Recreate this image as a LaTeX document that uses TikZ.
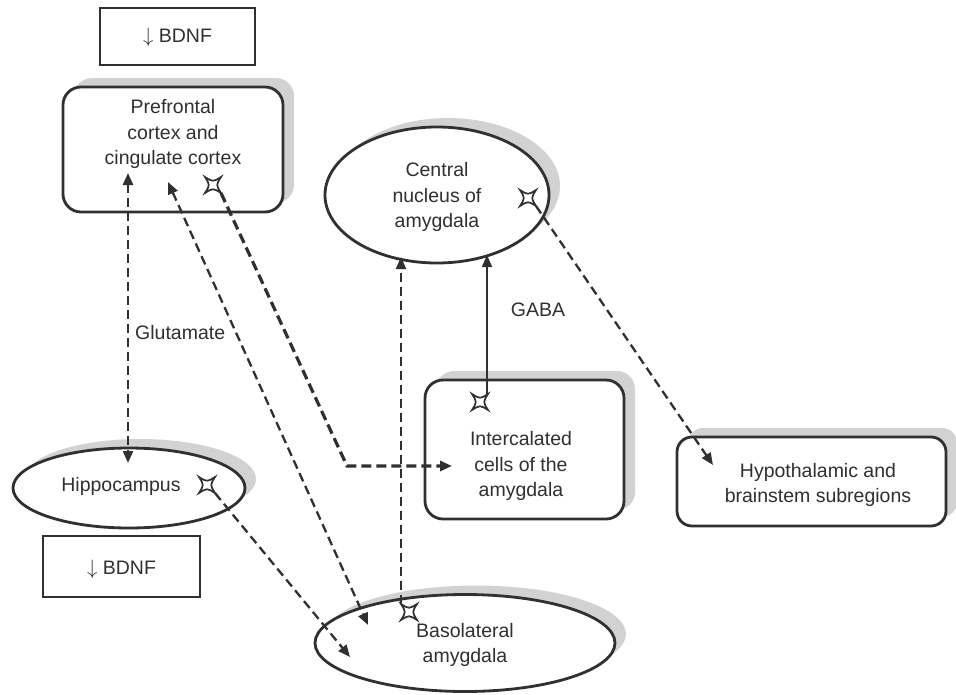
\documentclass[tikz,border=0pt]{standalone}
\usepackage{fontspec}
\setmainfont{Liberation Sans}
\usetikzlibrary{arrows.meta,shapes.geometric,shadows}
\definecolor{ink}{HTML}{303030}
\definecolor{shd}{HTML}{D2D2D2}
\begin{document}
\begin{tikzpicture}[x=1pt,y=-1pt,
  font=\fontsize{19.5}{25.5}\selectfont,
  outl/.style={draw=ink, line width=2.8pt, fill=white, inner sep=0pt},
  shadowed/.style={general shadow={fill=shd, shadow xshift=11pt, shadow yshift=9pt}},
  rbox/.style={outl, rectangle, rounded corners=18pt},
  ell/.style={outl, ellipse},
  plainbox/.style={draw=ink, line width=1.5pt, fill=white, inner sep=0pt},
  lbl/.style={align=center, text=ink, inner sep=0pt},
  dl/.style={draw=ink, line width=2.3pt, dash pattern=on 9pt off 5pt},
  dlt/.style={draw=ink, line width=3.2pt, dash pattern=on 10pt off 5pt},
  arr/.style={arrows={-Triangle[length=12pt,width=10pt]}},
  arrs/.style={arrows={Triangle[length=12pt,width=10pt]-Triangle[length=12pt,width=10pt]}},
  synapse/.pic={\draw[ink, line width=1.7pt, fill=white]
     (-8,-8) .. controls (0,-3) .. (8,-8) .. controls (3,0) .. (8,8)
     .. controls (0,3) .. (-8,8) .. controls (-3,0) .. (-8,-8) -- cycle;}
]
\useasboundingbox (0,0) rectangle (956,694);

% boxes and ellipses
\node[plainbox, minimum width=155pt, minimum height=57pt] (bdnfA) at (177.5,36.5) {};
\node[plainbox, minimum width=157pt, minimum height=61pt] (bdnfB) at (121.5,566.5) {};
\node[rbox, shadowed, minimum width=220pt, minimum height=125pt] (pfc) at (173,149.5) {};
\node[ell, shadowed, minimum width=224pt, minimum height=136pt] (cna) at (437,195) {};
\node[ell, shadowed, minimum width=232pt, minimum height=80pt] (hip) at (129,488) {};
\node[rbox, shadowed, minimum width=199pt, minimum height=139pt] (icm) at (524.5,449.5) {};
\node[rbox, shadowed, rounded corners=15pt, minimum width=269pt, minimum height=89pt] (hyp) at (811.5,481.5) {};
\node[ell, shadowed, minimum width=300pt, minimum height=97pt] (bla) at (465,643) {};

% connector end points
\coordinate (gTop) at (128,173);
\coordinate (gBot) at (128,463);
\coordinate (pTop) at (168,182);
\coordinate (pBot) at (368,625);
\coordinate (sPfc) at (213,185);
\coordinate (sPfcOut) at (221,193);
\coordinate (elbow) at (347,466);
\coordinate (icmIn) at (452,466);
\coordinate (sHip) at (207,485);
\coordinate (sHipOut) at (215,493);
\coordinate (blaIn) at (350,657);
\coordinate (sBla) at (409,612);
\coordinate (sBlaOut) at (401,604);
\coordinate (cnaInA) at (401,257);
\coordinate (sIcm) at (480,402);
\coordinate (sIcmOut) at (487,394);
\coordinate (cnaInB) at (487,255);
\coordinate (sCna) at (528,198);
\coordinate (sCnaOut) at (536,206);
\coordinate (hypIn) at (713,465);

% connectors
\draw[dl, arrs] (gTop) -- (gBot);
\draw[dl, arrs] (pTop) -- (pBot);
\draw[dlt, arr] (sPfcOut) -- (elbow) -- (icmIn);
\draw[dl, arr] (sHipOut) -- (blaIn);
\draw[dl, arr] (sBlaOut) -- (cnaInA);
\draw[draw=ink, line width=1.8pt, arr] (sIcmOut) -- (cnaInB);
\draw[dl, arr] (sCnaOut) -- (hypIn);

% synapse symbols
\pic at (sPfc) {synapse};
\pic at (sHip) {synapse};
\pic at (sBla) {synapse};
\pic at (sIcm) {synapse};
\pic at (sCna) {synapse};

% texts
\node[lbl] (tA) at (177.5,37) {$\downarrow$ BDNF};
\node[lbl] (tB) at (121.5,569) {$\downarrow$ BDNF};
\node[lbl] (tPfc) at (173,134) {Prefrontal\\cortex and\\cingulate cortex};
\node[lbl] (tCna) at (437,197) {Central\\nucleus of\\amygdala};
\node[lbl] (tHip) at (121,486) {Hippocampus};
\node[lbl] (tIcm) at (521,466) {Intercalated\\cells of the\\amygdala};
\node[lbl] (tHyp) at (818,485) {Hypothalamic and\\brainstem subregions};
\node[lbl] (tBla) at (465,645) {Basolateral\\amygdala};
\node[lbl, anchor=west] (tGlu) at (135,333) {Glutamate};
\node[lbl] (tGaba) at (538,310) {GABA};
\end{tikzpicture}
\end{document}
